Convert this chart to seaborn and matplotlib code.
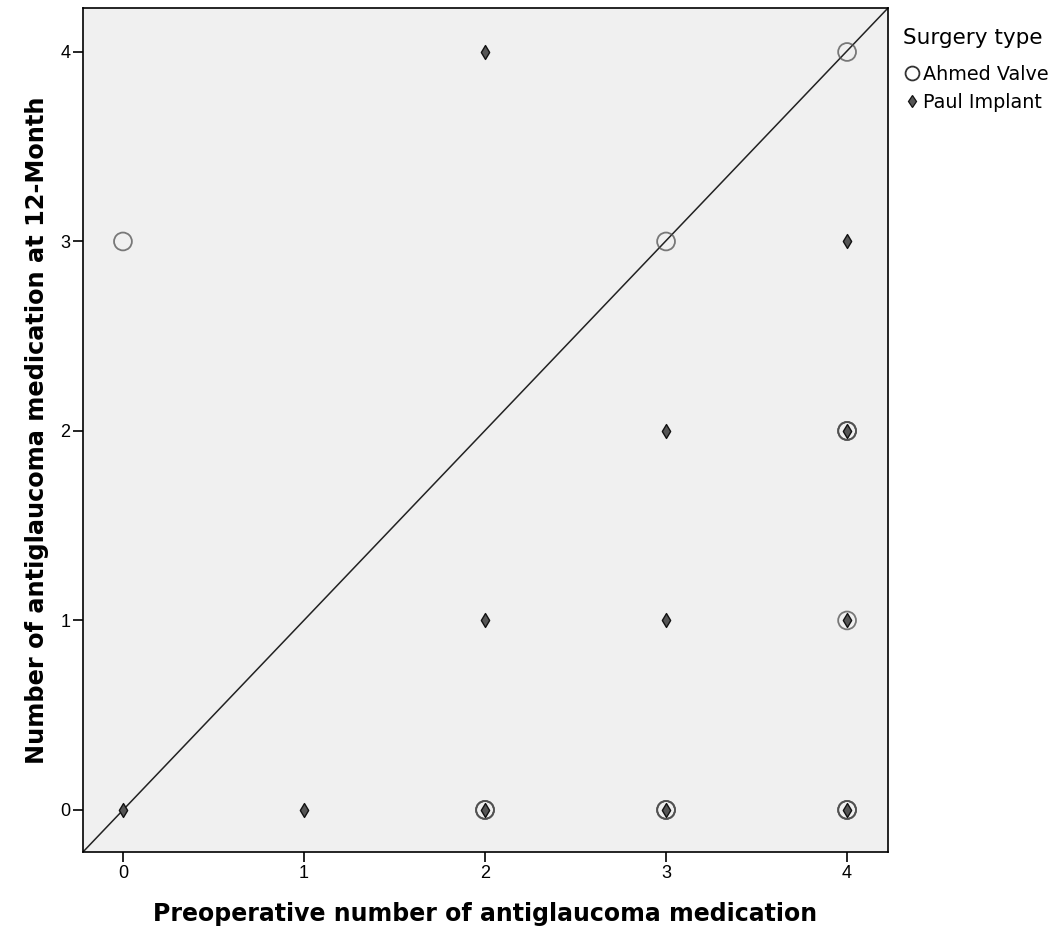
import matplotlib
matplotlib.use("Agg")
import matplotlib.pyplot as plt
import seaborn as sns
import pandas as pd
from matplotlib.lines import Line2D

# Data (overlapping points repeated)
ahmed_pre = [0, 3, 4, 2, 2, 2, 3, 3, 3, 4, 4, 4, 4, 4, 4, 4]
ahmed_post = [3, 3, 4, 0, 0, 0, 0, 0, 0, 0, 0, 0, 2, 2, 2, 1]
paul_pre = [0, 1, 2, 2, 3, 3, 4, 2, 3, 4, 4, 4]
paul_post = [0, 0, 4, 1, 2, 1, 3, 0, 0, 0, 2, 1]
groups = ["Ahmed Valve", "Paul Implant"]
x_ticks = [0, 1, 2, 3, 4]
y_ticks = [0, 1, 2, 3, 4]

df = pd.DataFrame({
    "pre": ahmed_pre + paul_pre,
    "post": ahmed_post + paul_post,
    "Surgery type": [groups[0]] * len(ahmed_pre) + [groups[1]] * len(paul_pre),
})

sns.set_theme(style="ticks")
plt.rcParams["font.family"] = ["Liberation Sans", "DejaVu Sans"]
plt.rcParams["text.color"] = "black"
plt.rcParams["axes.labelcolor"] = "black"

fig = plt.figure(figsize=(10.54, 9.43), dpi=100)
ax = fig.add_axes([0.0787, 0.0965, 0.7638, 0.895])
ax.set_facecolor("#f0f0f0")

ahmed = df[df["Surgery type"] == groups[0]]
paul = df[df["Surgery type"] == groups[1]]
sns.scatterplot(data=ahmed, x="pre", y="post", marker="o", s=165,
                facecolor="none", edgecolor="#505050", linewidth=1.3,
                alpha=0.75, ax=ax, legend=False, zorder=3)
sns.scatterplot(data=paul, x="pre", y="post", marker="d", s=50,
                facecolor="#555555", edgecolor="#111111", linewidth=1.0,
                ax=ax, legend=False, zorder=4)

ax.set_xlim(-0.221, 4.226)
ax.set_ylim(-0.222, 4.232)
ax.plot([0, 1], [0, 1], transform=ax.transAxes, color="#222222", lw=1.1, zorder=1)

ax.set_xticks(x_ticks)
ax.set_yticks(y_ticks)
ax.tick_params(axis="both", direction="out", length=7, width=1.2, labelsize=13,
               colors="black", pad=2)
for sp in ax.spines.values():
    sp.set_linewidth(1.2)
    sp.set_color("black")

ax.set_xlabel("Preoperative number of antiglaucoma medication", fontsize=17,
              fontweight="bold", labelpad=15, family="DejaVu Sans")
ax.set_ylabel("Number of antiglaucoma medication at 12-Month", fontsize=17.3,
              fontweight="bold", labelpad=8, family="DejaVu Sans")

handles = [
    Line2D([], [], marker="o", ls="none", markersize=10, markerfacecolor="none",
           markeredgecolor="#333333", markeredgewidth=1.3),
    Line2D([], [], marker="d", ls="none", markersize=6, markerfacecolor="#555555",
           markeredgecolor="#111111", markeredgewidth=0.9),
]
leg = fig.legend(handles, groups, title="Surgery type", loc="upper left",
                 bbox_to_anchor=(0.857, 0.970), frameon=False,
                 prop={"family": "DejaVu Sans", "size": 13.8},
                 title_fontproperties={"family": "DejaVu Sans", "size": 15.5},
                 handletextpad=0.15, labelspacing=0.45,
                 handlelength=0.9, borderaxespad=0, borderpad=0)
leg._legend_box.align = "left"
leg._legend_box.sep = 12

fig.savefig("out.png", dpi=100)
